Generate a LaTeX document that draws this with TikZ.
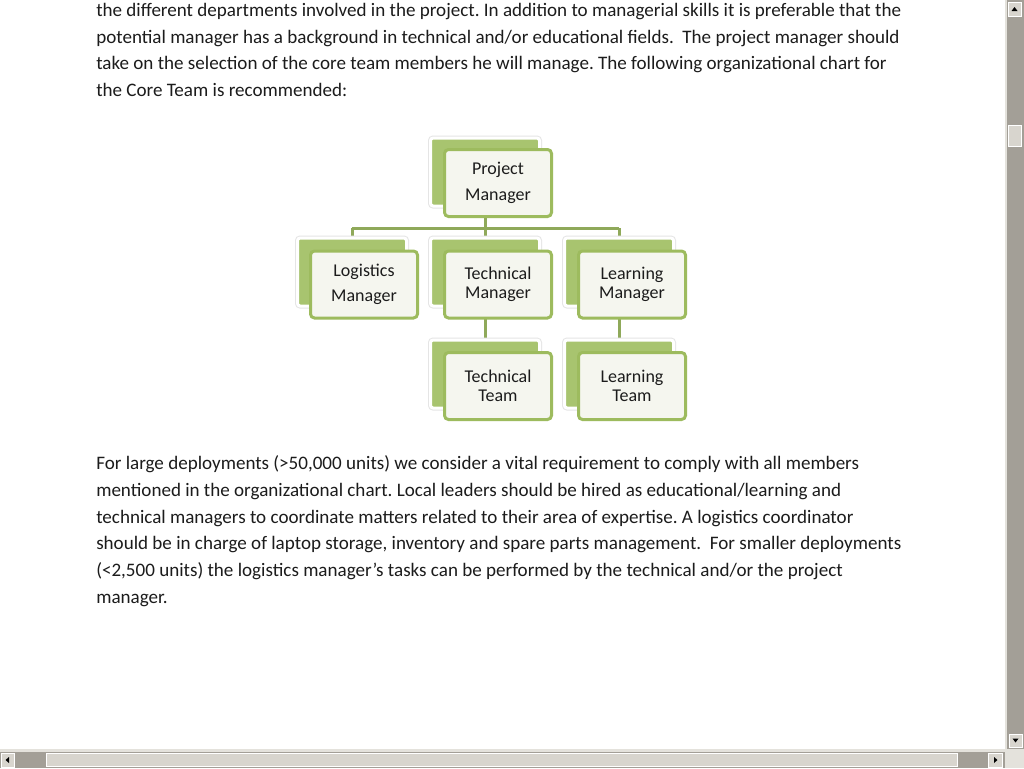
\documentclass[tikz,border=0pt]{standalone}
\usepackage{fontspec}
\setmainfont{Carlito}
\definecolor{txt}{HTML}{1C1C1C}
\definecolor{gback}{HTML}{A8C46F}
\definecolor{gborder}{HTML}{9DBB5E}
\definecolor{ffill}{HTML}{F5F6EF}
\definecolor{gconn}{HTML}{8FA95A}
\definecolor{sbtrack}{HTML}{A39F97}
\definecolor{sbbtn}{HTML}{D8D5CE}
\definecolor{sbthumb}{HTML}{DCDAD3}
\definecolor{sbedge}{HTML}{E4E2DC}
\begin{document}
\frenchspacing
\begin{tikzpicture}[x=0.75pt,y=-0.75pt,
  body/.style={anchor=base west,inner sep=0pt,font=\fontsize{14.3}{17}\selectfont,text=txt},
  backbox/.style={preaction={draw=black!10,line width=3.75pt,rounded corners=2pt},
    draw=white,line width=2.25pt,fill=gback,rounded corners=2pt,
    minimum width=109*0.75pt,minimum height=68*0.75pt,inner sep=0pt},
  frontbox/.style={draw=gborder,line width=2.25pt,fill=ffill,rounded corners=3pt,
    minimum width=107*0.75pt,minimum height=67*0.75pt,inner sep=0pt,align=center,
    font=\fontsize{13.5}{14.25}\selectfont,text=txt},
  conn/.style={draw=gconn,line width=2.25pt},
  sbbox/.style={fill=sbbtn,draw=white,line width=0.6pt},
  arrowtri/.style={fill=black}]
\useasboundingbox (0,0) rectangle (1024,768);
\fill[white] (0,0) rectangle (1024,768);

% ---- body text ----
\node[body] (t1) at (96,16) {the different departments involved in the project. In addition to managerial skills it is preferable that the};
\node[body] (t2) at (96,43) {potential manager has a background in technical and/or educational fields.\ \ The project manager should};
\node[body] (t3) at (96,69) {take on the selection of the core team members he will manage. The following organizational chart for};
\node[body] (t4) at (96,96) {the Core Team is recommended:};

\node[body] (t5) at (96,469) {For large deployments (>50,000 units) we consider a vital requirement to comply with all members};
\node[body] (t6) at (96,496) {mentioned in the organizational chart. Local leaders should be hired as educational/learning and};
\node[body] (t7) at (96,523) {technical managers to coordinate matters related to their area of expertise. A logistics coordinator};
\node[body] (t8) at (96,549) {should be in charge of laptop storage, inventory and spare parts management.\ \ For smaller deployments};
\node[body] (t9) at (96,576) {(<2,500 units) the logistics manager’s tasks can be performed by the technical and/or the project};
\node[body] (t10) at (96,603) {manager.};

% ---- org chart ----
\coordinate (bus) at (0,228);
\path (485,172) coordinate (pmbc) (352,272) coordinate (lgbc) (485,272) coordinate (tmbc)
      (619,272) coordinate (lmbc) (485,374) coordinate (ttbc) (619,374) coordinate (ltbc);

% connectors (drawn first, boxes on top)
\draw[conn] (pmbc) -- (pmbc |- bus);
\draw[conn] (lgbc |- bus) -- (lmbc |- bus);
\draw[conn] (lgbc |- bus) -- (lgbc);
\draw[conn] (tmbc |- bus) -- (tmbc);
\draw[conn] (lmbc |- bus) -- (lmbc);
\draw[conn] (tmbc) -- (ttbc);
\draw[conn] (lmbc) -- (ltbc);

% back boxes
\node[backbox] (pmb) at (pmbc) {};
\node[backbox] (lgb) at (lgbc) {};
\node[backbox] (tmb) at (tmbc) {};
\node[backbox] (lmb) at (lmbc) {};
\node[backbox] (ttb) at (ttbc) {};
\node[backbox] (ltb) at (ltbc) {};

% front boxes
\node[frontbox] (pm) at (498,183) {Project\\[5.25pt]Manager};
\node[frontbox] (lg) at (364,284.5) {Logistics\\[4.5pt]Manager};
\node[frontbox] (tm) at (498,284.5) {Technical\\Manager};
\node[frontbox] (lm) at (632,284.5) {Learning\\Manager};
\node[frontbox] (tt) at (498,386) {Technical\\Team};
\node[frontbox] (lt) at (632,386) {Learning\\Team};

% ---- vertical scrollbar ----
\fill[sbtrack] (1005,0) rectangle (1024,749);
\fill[sbedge] (1005,0) rectangle (1007,749);
\draw[sbbox] (1008,2) rectangle (1021,16);
\fill[arrowtri] (1011.5,11) -- (1017.5,11) -- (1014.5,7) -- cycle;
\draw[sbbox] (1008,125) rectangle (1021,146);
\draw[sbbox] (1009,734) rectangle (1022,747);
\fill[arrowtri] (1012.5,738.5) -- (1018.5,738.5) -- (1015.5,742.5) -- cycle;

% ---- horizontal scrollbar ----
\fill[sbedge] (0,749) rectangle (1005,752);
\fill[sbtrack] (0,752) rectangle (1005,768);
\draw[sbbox] (1,753) rectangle (14,767);
\fill[arrowtri] (9,757) -- (9,763) -- (5.5,760) -- cycle;
\draw[sbbox] (46,753) rectangle (957,766);
\draw[sbbox] (988,753) rectangle (1002,767);
\fill[arrowtri] (994,757) -- (994,763) -- (997.5,760) -- cycle;
\fill[sbedge] (1005,749) rectangle (1024,768);
\end{tikzpicture}
\end{document}
